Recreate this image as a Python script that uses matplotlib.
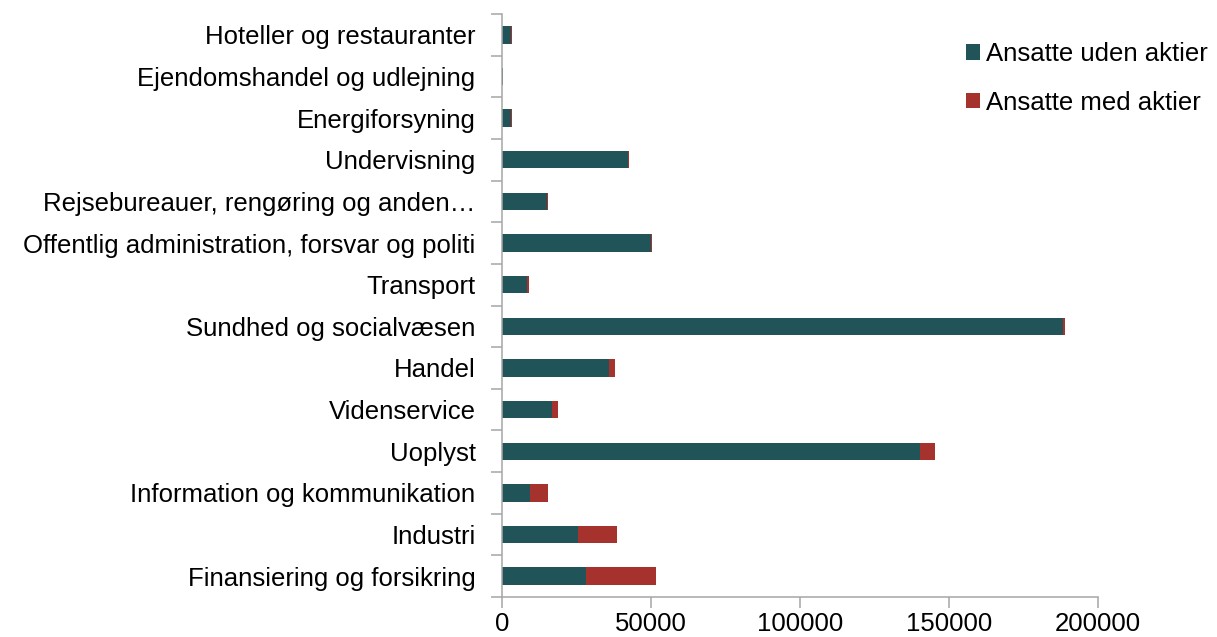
import numpy as np
import matplotlib
matplotlib.use("Agg")
import matplotlib.pyplot as plt
from matplotlib.ticker import FixedLocator

plt.rcParams["font.family"] = ["Liberation Sans", "DejaVu Sans"]

# categories listed top to bottom as shown
categories = [
    "Hoteller og restauranter",
    "Ejendomshandel og udlejning",
    "Energiforsyning",
    "Undervisning",
    "Rejsebureauer, rengøring og anden…",
    "Offentlig administration, forsvar og politi",
    "Transport",
    "Sundhed og socialvæsen",
    "Handel",
    "Videnservice",
    "Uoplyst",
    "Information og kommunikation",
    "Industri",
    "Finansiering og forsikring",
]
uden_aktier = [3100, 300, 3100, 42300, 15100, 50100, 8500, 188400,
               36000, 16700, 140400, 9500, 25600, 28100]
med_aktier = [100, 200, 100, 200, 300, 200, 450, 600,
              2000, 2100, 5000, 5800, 13100, 23600]
xticks = [0, 50000, 100000, 150000, 200000]

teal = "#215459"
red = "#A5322D"
grey = "#A6A6A6"
fs = 18.5

fig = plt.figure(figsize=(12.17, 6.37), dpi=100)
ax = fig.add_axes([502 / 1217, 1 - 597 / 637, 596 / 1217, 583 / 637])

y = np.arange(len(categories))
ax.barh(y, uden_aktier, height=0.42, color=teal, label="Ansatte uden aktier")
ax.barh(y, med_aktier, height=0.42, left=uden_aktier, color=red,
        label="Ansatte med aktier")

ax.set_ylim(len(categories) - 0.5, -0.5)
ax.set_xlim(0, 200000)

ax.set_yticks(y)
ax.set_yticklabels(categories, fontsize=fs)
ax.yaxis.set_minor_locator(FixedLocator(np.arange(len(categories) + 1) - 0.5))
ax.tick_params(axis="y", which="major", length=0, pad=19)
ax.tick_params(axis="y", which="minor", length=8, width=1.1, color=grey)

ax.set_xticks(xticks)
ax.set_xticklabels([str(v) for v in xticks], fontsize=fs)
ax.tick_params(axis="x", length=8, width=1.1, color=grey, pad=3)

for side in ["top", "right"]:
    ax.spines[side].set_visible(False)
for side in ["left", "bottom"]:
    ax.spines[side].set_color(grey)
    ax.spines[side].set_linewidth(1.1)

fig.legend(loc="upper left", bbox_to_anchor=(956 / 1217, 1 - 32 / 637),
           frameon=False, fontsize=fs, handlelength=0.55, handleheight=0.55,
           handletextpad=0.2, labelspacing=0.95, borderaxespad=0)

fig.savefig("out.png", dpi=100)
